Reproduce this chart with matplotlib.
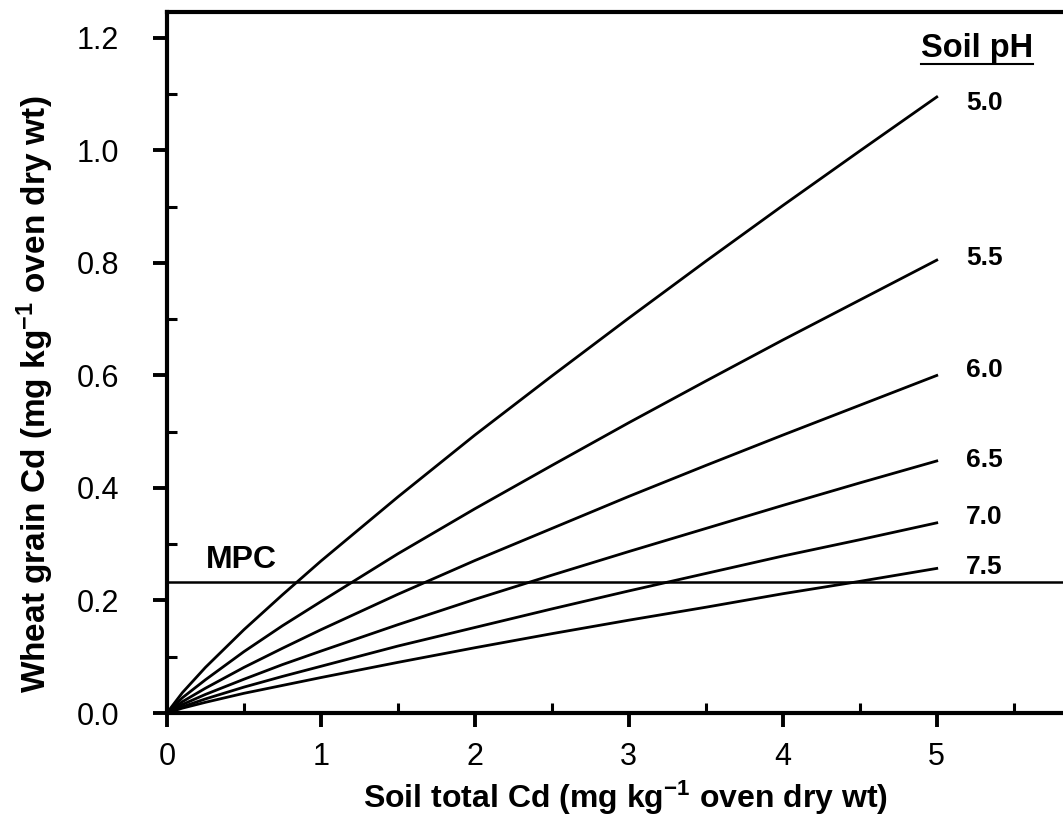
import matplotlib
matplotlib.use("Agg")
import matplotlib.pyplot as plt
from matplotlib.ticker import MultipleLocator
from matplotlib.lines import Line2D

plt.rcParams['font.family'] = ['Liberation Sans', 'DejaVu Sans']
plt.rcParams['mathtext.fontset'] = 'custom'
plt.rcParams['mathtext.rm'] = 'Liberation Sans:bold'
plt.rcParams['mathtext.default'] = 'rm'

# --- data ---
soil_cd = [0, 0.1, 0.25, 0.5, 0.75, 1.0, 1.5, 2.0, 2.5, 3.0, 3.5, 4.0, 4.5, 5.0]
ph_50 = [0, 0.036, 0.081, 0.148, 0.210, 0.270, 0.384, 0.494, 0.599, 0.702, 0.803, 0.902, 0.999, 1.095]
ph_55 = [0, 0.027, 0.059, 0.109, 0.155, 0.198, 0.283, 0.363, 0.440, 0.516, 0.590, 0.663, 0.734, 0.805]
ph_60 = [0, 0.020, 0.044, 0.081, 0.115, 0.148, 0.211, 0.271, 0.328, 0.385, 0.440, 0.494, 0.547, 0.600]
ph_65 = [0, 0.015, 0.033, 0.060, 0.086, 0.110, 0.157, 0.202, 0.245, 0.287, 0.328, 0.369, 0.409, 0.448]
ph_70 = [0, 0.011, 0.025, 0.046, 0.065, 0.083, 0.119, 0.152, 0.185, 0.217, 0.248, 0.279, 0.308, 0.338]
ph_75 = [0, 0.0086, 0.019, 0.035, 0.049, 0.063, 0.090, 0.116, 0.141, 0.165, 0.188, 0.212, 0.234, 0.257]
ph_labels = ['5.0', '5.5', '6.0', '6.5', '7.0', '7.5']
mpc = 0.233

series = [ph_50, ph_55, ph_60, ph_65, ph_70, ph_75]
label_offsets = [-0.01, 0.004, 0.01, 0.002, 0.01, 0.003]

fig = plt.figure(figsize=(10.63, 8.24), dpi=100)
ax = fig.add_axes([0.157, 0.1347, 0.843, 0.8507])

for vals, lab, off in zip(series, ph_labels, label_offsets):
    ax.plot(soil_cd, vals, color='black', lw=2.0, solid_joinstyle='round')
    ax.text(5.19, vals[-1] + off, lab, fontsize=19, fontweight='bold',
            va='center', ha='left')

ax.axhline(mpc, color='black', lw=1.8)
ax.text(0.25, 0.272, 'MPC', fontsize=23, fontweight='bold', va='center', ha='left')

title = ax.text(5.26, 1.182, 'Soil pH', fontsize=23.5, fontweight='bold',
                va='center', ha='center')

ax.set_xlim(0, 5.82)
ax.set_ylim(0, 1.246)

ax.xaxis.set_major_locator(MultipleLocator(1))
ax.xaxis.set_minor_locator(MultipleLocator(0.5))
ax.yaxis.set_major_locator(MultipleLocator(0.2))
ax.yaxis.set_minor_locator(MultipleLocator(0.1))
ax.yaxis.set_major_formatter(lambda v, p: f'{v:.1f}')

ax.spines['right'].set_visible(False)
for s in ['left', 'bottom', 'top']:
    ax.spines[s].set_linewidth(3)

ax.tick_params(which='major', direction='out', length=10, width=2.8, labelsize=22)
ax.tick_params(which='minor', direction='in', length=7, width=2.2)
ax.tick_params(axis='y', which='major', pad=24.5)
ax.tick_params(axis='x', which='major', pad=11)

ax.set_xlabel('Soil total Cd (mg kg$^{-1}$ oven dry wt)', fontsize=23, fontweight='bold')
ax.set_ylabel('Wheat grain Cd (mg kg$^{-1}$ oven dry wt)', fontsize=24, fontweight='bold')
ax.xaxis.set_label_coords(0.512, -0.094)
ax.yaxis.set_label_coords(-0.124, 0.455)

# underline under "Soil pH"
fig.canvas.draw()
bb = title.get_window_extent().transformed(fig.transFigure.inverted())
fig.add_artist(Line2D([bb.x0, bb.x1], [bb.y0 - 0.001, bb.y0 - 0.001],
                      color='black', lw=1.5, transform=fig.transFigure))

fig.savefig('out.png', dpi=100)
